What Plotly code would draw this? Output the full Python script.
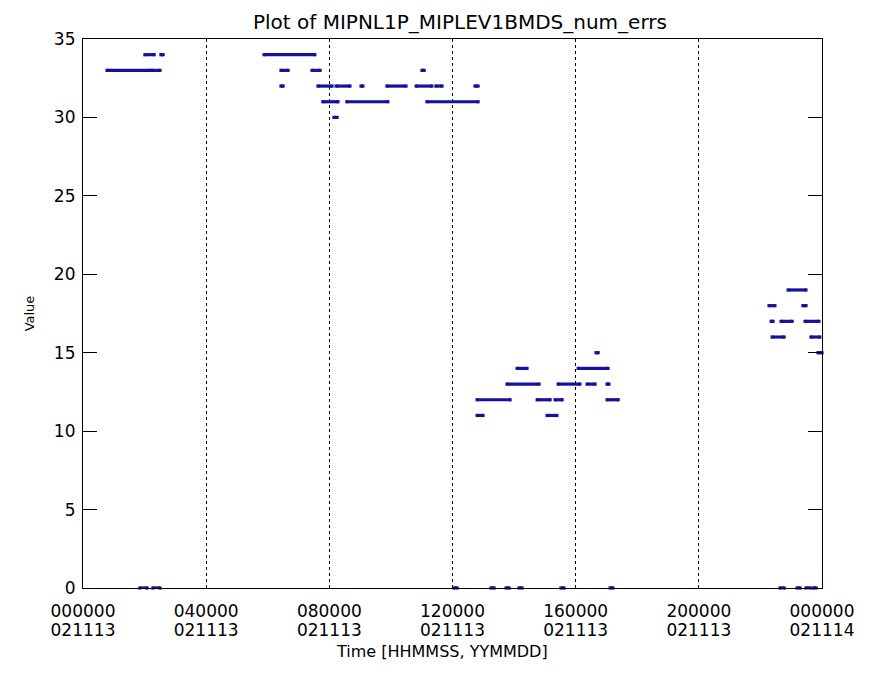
import plotly.graph_objects as go

# Segment data: value, start hour, end hour (time of day 2002-11-13, hours)
seg_value = [33, 33, 34, 34, 0, 0,
             34, 33, 33, 32, 32, 32, 32, 32, 32, 32, 32, 33,
             31, 31, 31, 30,
             12, 12, 12, 12, 11, 11,
             13, 13, 13, 13, 14, 14, 15,
             0, 0, 0, 0, 0, 0, 0, 0, 0, 0,
             19, 18, 18, 17, 17, 17, 16, 16, 15]
seg_start = [0.78, 2.24, 2.01, 2.53, 1.85, 2.27,
             5.88, 6.43, 7.44, 6.43, 7.63, 8.22, 9.03, 9.87, 10.82, 11.46, 12.73, 11.01,
             7.79, 8.57, 11.17, 8.15,
             12.80, 14.75, 15.33, 17.02, 12.80, 15.07,
             13.77, 15.43, 16.37, 17.02, 14.10, 16.08, 16.66,
             12.05, 13.25, 13.74, 14.16, 15.52, 17.12, 22.64, 23.19, 23.48, 23.71,
             22.90, 22.28, 23.38, 22.35, 22.67, 23.45, 22.38, 23.64, 23.87]
seg_end = [2.18, 2.50, 2.31, 2.60, 2.08, 2.50,
           7.53, 6.66, 7.70, 6.50, 8.09, 8.67, 9.09, 10.49, 11.33, 11.66, 12.83, 11.08,
           8.28, 9.90, 12.83, 8.25,
           13.87, 15.17, 15.56, 17.38, 12.99, 15.39,
           14.81, 16.14, 16.63, 17.08, 14.42, 17.05, 16.73,
           12.15, 13.35, 13.84, 14.26, 15.62, 17.21, 22.77, 23.29, 23.61, 23.81,
           23.48, 22.47, 23.48, 22.41, 23.03, 23.90, 22.77, 23.93, 24.0]

tick_vals = [0, 4, 8, 12, 16, 20, 24]
tick_time = ["000000", "040000", "080000", "120000", "160000", "200000", "000000"]
tick_date = ["021113", "021113", "021113", "021113", "021113", "021113", "021114"]
y_ticks = [0, 5, 10, 15, 20, 25, 30, 35]

xs, ys = [], []
for v, s, e in zip(seg_value, seg_start, seg_end):
    xs += [s, e, None]
    ys += [v, v, None]

mark_color = "#12129c"
font_family = "DejaVu Sans"

fig = go.Figure()
fig.add_trace(go.Scatter(
    x=xs, y=ys, mode="lines+markers",
    line=dict(color=mark_color, width=3.2),
    marker=dict(color=mark_color, size=3.2, symbol="square"),
    cliponaxis=False, hoverinfo="skip", showlegend=False,
))
# invisible helper trace so the date-label axis (x2) is drawn
fig.add_trace(go.Scatter(
    x=[tick_vals[0], tick_vals[-1]], y=[y_ticks[0], y_ticks[0]],
    xaxis="x2", yaxis="y", mode="markers",
    marker=dict(opacity=0, size=1), hoverinfo="skip", showlegend=False,
))

fig.update_layout(
    width=865, height=667,
    margin=dict(l=75, r=51, t=31, b=87),
    paper_bgcolor="white", plot_bgcolor="white",
    font=dict(family=font_family, color="black", size=17),
    title=dict(text="Plot of MIPNL1P_MIPLEV1BMDS_num_errs",
               x=0.5225, xanchor="center", y=0.99, yanchor="top",
               yref="container",
               font=dict(family=font_family, size=20, color="black")),
    annotations=[dict(text="Time [HHMMSS, YYMMDD]", xref="paper", yref="paper",
                      x=0.486, y=-0.116, xanchor="center", yanchor="middle",
                      showarrow=False, font=dict(size=16, color="black"))],
    xaxis=dict(
        range=[0, 24], tickmode="array", tickvals=tick_vals, ticktext=tick_time,
        showline=True, linecolor="black", linewidth=1.2, mirror=True,
        ticks="", showgrid=True, gridcolor="black", gridwidth=1.2, griddash="dot",
        zeroline=False, tickfont=dict(size=17), ticklabelstandoff=7,
    ),
    xaxis2=dict(
        overlaying="x", anchor="y", side="bottom",
        range=[0, 24], tickmode="array", tickvals=tick_vals, ticktext=tick_date,
        showline=False, showgrid=False, zeroline=False, ticks="",
        tickfont=dict(size=17), ticklabelstandoff=30,
    ),
    yaxis=dict(
        range=[0, 35], tickmode="array", tickvals=y_ticks,
        showline=True, linecolor="black", linewidth=1.2, mirror="ticks",
        ticks="inside", ticklen=14, tickcolor="black", tickwidth=1.2,
        showgrid=False, zeroline=False, tickfont=dict(size=17),
        ticklabelstandoff=3,
        title=dict(text="Value", font=dict(size=13), standoff=16),
    ),
)

fig.write_html("out.html")
